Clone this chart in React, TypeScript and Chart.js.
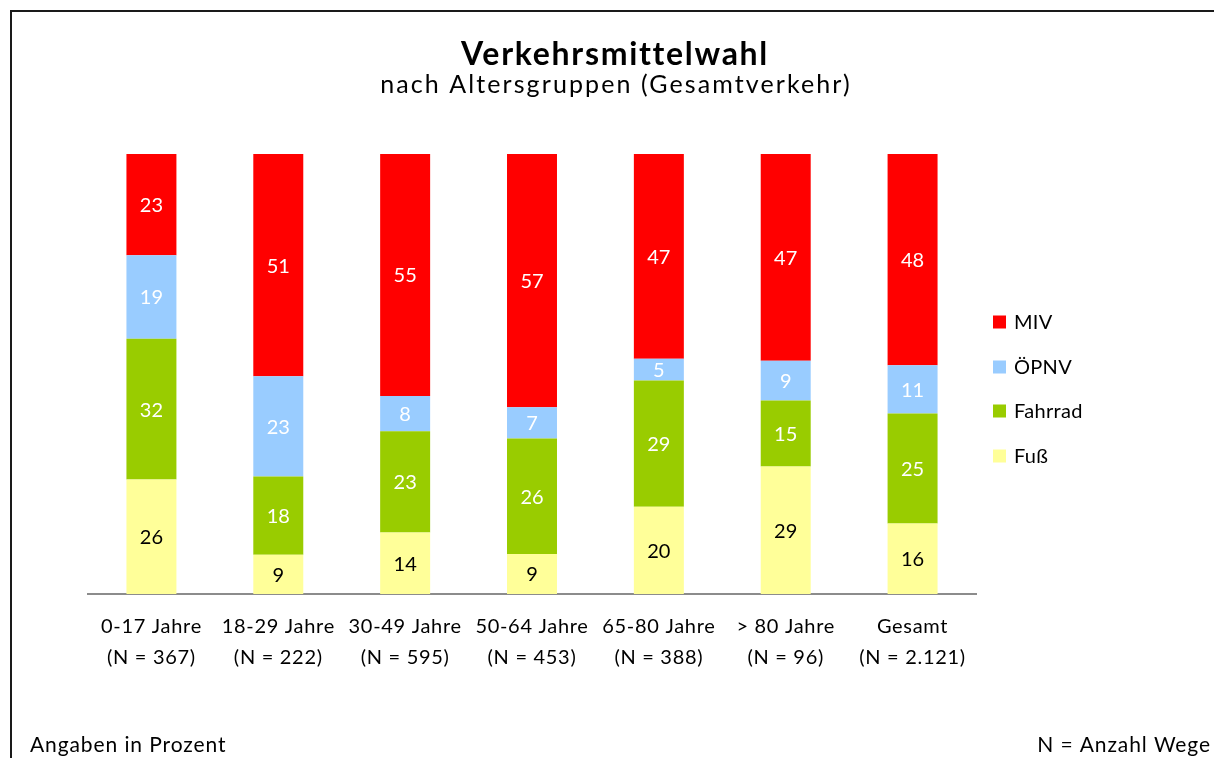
import React, { useEffect, useRef } from "react";
import { Chart, registerables } from "chart.js";

Chart.register(...registerables);

const categories = [
  "0-17 Jahre",
  "18-29 Jahre",
  "30-49 Jahre",
  "50-64 Jahre",
  "65-80 Jahre",
  "> 80 Jahre",
  "Gesamt",
];
const sampleSizes = [
  "(N = 367)",
  "(N = 222)",
  "(N = 595)",
  "(N = 453)",
  "(N = 388)",
  "(N = 96)",
  "(N = 2.121)",
];

const miv = [23, 51, 55, 57, 47, 47, 48];
const oepnv = [19, 23, 8, 7, 5, 9, 11];
const fahrrad = [32, 18, 23, 26, 29, 15, 25];
const fuss = [26, 9, 14, 9, 20, 29, 16];

const seriesNames = ["Fuß", "Fahrrad", "ÖPNV", "MIV"];
const seriesColors = ["#FFFF99", "#99CC00", "#99CCFF", "#FF0000"];
const labelColors = ["#000000", "#FFFFFF", "#FFFFFF", "#FFFFFF"];

const titleText = "Verkehrsmittelwahl";
const subtitleText = "nach Altersgruppen (Gesamtverkehr)";
const footerLeft = "Angaben in Prozent";
const footerRight = "N = Anzahl Wege";

const FONT = "Lato, 'Open Sans', 'DejaVu Sans', sans-serif";

const rawSeries = [fuss, fahrrad, oepnv, miv];

// 100% stacked: normalise each category to its total
const totals = categories.map((_, i) =>
  rawSeries.reduce((s, arr) => s + arr[i], 0)
);
const normalised = rawSeries.map((arr) =>
  arr.map((v, i) => (v / totals[i]) * 100)
);

function spaced(ctx: any, px: number) {
  if ("letterSpacing" in ctx) ctx.letterSpacing = `${px}px`;
}

const decorPlugin = {
  id: "decor",
  beforeDraw(chart: any) {
    const ctx = chart.ctx;
    ctx.save();
    ctx.fillStyle = "#FFFFFF";
    ctx.fillRect(0, 0, chart.width, chart.height);
    ctx.strokeStyle = "#1a1a1a";
    ctx.lineWidth = 2;
    ctx.strokeRect(11, 11, 1400, 1000);
    ctx.restore();
    // slight tracking for the axis tick labels drawn by Chart.js
    spaced(ctx, 0.7);
  },
  afterDatasetsDraw(chart: any) {
    const ctx = chart.ctx;
    ctx.save();
    spaced(ctx, 0);
    ctx.font = `20px ${FONT}`;
    ctx.textAlign = "center";
    ctx.textBaseline = "middle";
    chart.data.datasets.forEach((ds: any, di: number) => {
      const meta = chart.getDatasetMeta(di);
      meta.data.forEach((bar: any, i: number) => {
        const y = (bar.y + bar.base) / 2;
        ctx.fillStyle = labelColors[di];
        ctx.fillText(String(rawSeries[di][i]), bar.x, y + 1);
      });
    });
    ctx.restore();
  },
  afterDraw(chart: any) {
    const ctx = chart.ctx;
    ctx.save();
    ctx.fillStyle = "#000000";
    ctx.textAlign = "center";
    ctx.textBaseline = "alphabetic";
    ctx.font = `bold 32px ${FONT}`;
    spaced(ctx, 1.7);
    ctx.fillText(titleText, 615, 65);
    ctx.font = `25px ${FONT}`;
    spaced(ctx, 2.1);
    ctx.fillText(subtitleText, 616, 93);

    // legend (top to bottom: MIV, ÖPNV, Fahrrad, Fuß)
    const order = [3, 2, 1, 0];
    const legendY = [322, 367, 411, 456];
    ctx.font = `20px ${FONT}`;
    spaced(ctx, 0.3);
    ctx.textAlign = "left";
    ctx.textBaseline = "middle";
    order.forEach((di, k) => {
      ctx.fillStyle = seriesColors[di];
      ctx.fillRect(993, legendY[k] - 6.5, 13, 13);
      ctx.fillStyle = "#000000";
      ctx.fillText(seriesNames[di], 1014, legendY[k] + 1);
    });

    ctx.textBaseline = "alphabetic";
    ctx.font = `21px ${FONT}`;
    spaced(ctx, 0.9);
    ctx.textAlign = "left";
    ctx.fillText(footerLeft, 30, 752);
    ctx.textAlign = "right";
    ctx.fillText(footerRight, 1211, 752);
    ctx.restore();
  },
};

export default function App() {
  const ref = useRef<HTMLCanvasElement | null>(null);

  useEffect(() => {
    if (!ref.current) return;
    const chart = new Chart(ref.current, {
      type: "bar",
      data: {
        labels: categories.map((c, i) => [c, sampleSizes[i]]),
        datasets: seriesNames.map((name, di) => ({
          label: name,
          data: normalised[di],
          backgroundColor: seriesColors[di],
          borderWidth: 0,
          barPercentage: 0.394,
          categoryPercentage: 1,
        })),
      },
      options: {
        responsive: false,
        animation: false,
        devicePixelRatio: 1,
        layout: {
          padding: { left: 88, right: 238, top: 154, bottom: 68 },
        },
        plugins: {
          legend: { display: false },
          title: { display: false },
          tooltip: { enabled: false },
        },
        scales: {
          x: {
            stacked: true,
            grid: { display: false, drawTicks: false },
            border: { display: true, color: "#8c8c8c", width: 2 },
            ticks: {
              color: "#000000",
              font: { family: FONT, size: 20, lineHeight: 1.55 },
              padding: 17,
              maxRotation: 0,
              autoSkip: false,
            },
          },
          y: {
            stacked: true,
            display: false,
            min: 0,
            max: 100,
          },
        },
      },
      plugins: [decorPlugin],
    });
    return () => chart.destroy();
  }, []);

  return (
    <div
      style={{
        position: "fixed",
        left: 0,
        top: 0,
        width: 1214,
        height: 758,
        overflow: "hidden",
        background: "#fff",
      }}
    >
      <canvas ref={ref} width={1214} height={758} style={{ display: "block" }} />
    </div>
  );
}
